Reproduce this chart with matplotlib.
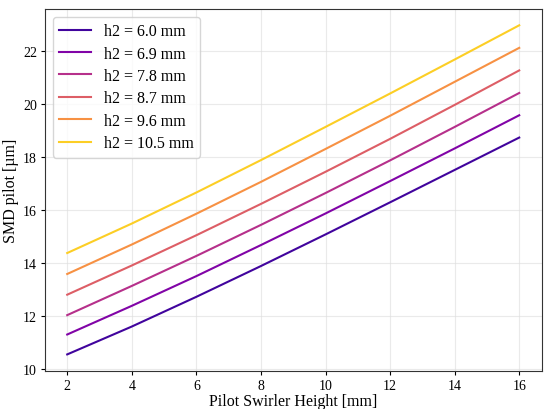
import numpy as np
import matplotlib.pyplot as plt

plt.rcParams['font.family'] = ['Liberation Serif', 'DejaVu Serif']
plt.rcParams['mathtext.fontset'] = 'stix'

# pilot swirler height [mm]
x = [2, 4, 6, 8, 10, 12, 14, 16]

# SMD pilot [um], one series per h2
h2_labels = ['h2 = 6.0 mm', 'h2 = 6.9 mm', 'h2 = 7.8 mm',
             'h2 = 8.7 mm', 'h2 = 9.6 mm', 'h2 = 10.5 mm']
smd_60 = [10.55, 11.60, 12.72, 13.88, 15.07, 16.28, 17.50, 18.72]
smd_69 = [11.30, 12.38, 13.50, 14.67, 15.86, 17.08, 18.31, 19.56]
smd_78 = [12.03, 13.13, 14.26, 15.43, 16.63, 17.86, 19.12, 20.40]
smd_87 = [12.80, 13.90, 15.04, 16.22, 17.43, 18.67, 19.95, 21.25]
smd_96 = [13.58, 14.69, 15.85, 17.05, 18.29, 19.54, 20.82, 22.10]
smd_105 = [14.37, 15.48, 16.65, 17.87, 19.12, 20.38, 21.66, 22.95]

series = [smd_60, smd_69, smd_78, smd_87, smd_96, smd_105]
colors = plt.cm.plasma(np.linspace(0.1, 0.9, len(series)))

fig, ax = plt.subplots(figsize=(5.44, 4.10), dpi=100)
for y, lab, c in zip(series, h2_labels, colors):
    ax.plot(x, y, color=c, lw=1.5, label=lab)

ax.set_xticks([2, 4, 6, 8, 10, 12, 14, 16])
ax.set_yticks([10, 12, 14, 16, 18, 20, 22])
ax.tick_params(labelsize=10, length=3, pad=2.5)
ax.grid(True, color='#dddddd', lw=0.8, alpha=0.6)
ax.set_xlabel('Pilot Swirler Height [mm]', fontsize=11.5, labelpad=1)
ax.set_ylabel('SMD pilot [µm]', fontsize=11.5, labelpad=3)
for s in ax.spines.values():
    s.set_color('#333333')
ax.legend(loc='upper left', fontsize=11.5, labelspacing=0.4, framealpha=0.8)

fig.subplots_adjust(left=0.082, right=0.996, top=0.976, bottom=0.093)
fig.savefig('out.png', dpi=100)
